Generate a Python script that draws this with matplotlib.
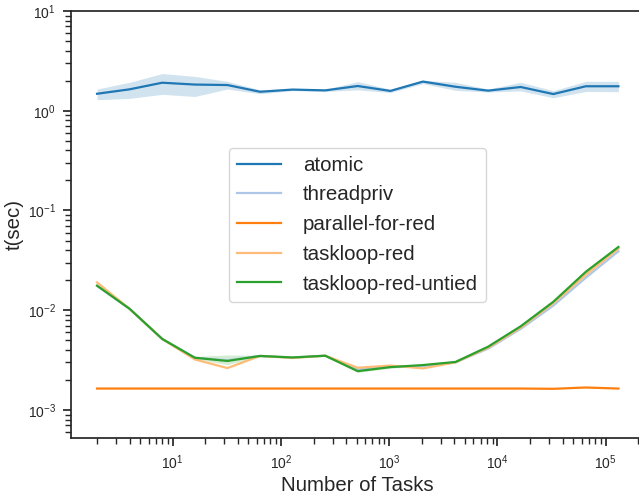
import matplotlib
matplotlib.use("Agg")
import matplotlib.pyplot as plt
import numpy as np

plt.rcParams['font.family'] = ['Liberation Sans', 'DejaVu Sans']
plt.rcParams['axes.edgecolor'] = '#262626'
plt.rcParams['xtick.color'] = '#262626'
plt.rcParams['ytick.color'] = '#262626'
plt.rcParams['text.color'] = '#262626'
plt.rcParams['axes.labelcolor'] = '#262626'

# number of tasks: 2^1 .. 2^17
tasks = [2 ** k for k in range(1, 18)]

atomic = [1.48, 1.64, 1.91, 1.83, 1.81, 1.55, 1.63, 1.60, 1.77, 1.58,
          1.96, 1.74, 1.59, 1.73, 1.47, 1.76, 1.76]
atomic_lo = [1.29, 1.33, 1.46, 1.39, 1.65, 1.48, 1.59, 1.56, 1.62, 1.52,
             1.87, 1.60, 1.54, 1.58, 1.35, 1.56, 1.55]
atomic_hi = [1.65, 1.93, 2.36, 2.21, 1.97, 1.62, 1.67, 1.64, 1.96, 1.64,
             2.02, 1.93, 1.65, 1.93, 1.59, 1.97, 1.97]

threadpriv = [0.0176, 0.0103, 0.00515, 0.00334, 0.00315, 0.00348, 0.00336,
              0.00350, 0.00255, 0.00270, 0.00275, 0.00300, 0.00412, 0.0065,
              0.0111, 0.0212, 0.0390]

parallel_for_red = [0.00164, 0.00164, 0.00164, 0.00164, 0.00164, 0.00164,
                    0.00164, 0.00164, 0.00164, 0.00164, 0.00164, 0.00164,
                    0.00164, 0.00164, 0.00163, 0.00168, 0.00164]

taskloop_red = [0.0190, 0.0103, 0.00515, 0.00321, 0.00263, 0.00348, 0.00332,
                0.00350, 0.00265, 0.00279, 0.00261, 0.00300, 0.00421, 0.0067,
                0.01176, 0.0227, 0.0415]

taskloop_red_untied = [0.0176, 0.01033, 0.00515, 0.00334, 0.00310, 0.00348,
                       0.00336, 0.00350, 0.00245, 0.00269, 0.00282, 0.00303,
                       0.00431, 0.0069, 0.01214, 0.0243, 0.0431]
untied_lo = [0.0172, 0.0101, 0.00505, 0.00325, 0.00285, 0.00342, 0.00330,
             0.00344, 0.00238, 0.00262, 0.00276, 0.00297, 0.00424, 0.0068,
             0.0119, 0.0236, 0.0423]
untied_hi = [0.0180, 0.0105, 0.00525, 0.00344, 0.00356, 0.00354, 0.00342,
             0.00356, 0.00252, 0.00276, 0.00288, 0.00309, 0.00438, 0.0070,
             0.0124, 0.0252, 0.0440]

names = ['atomic', 'threadpriv', 'parallel-for-red', 'taskloop-red',
         'taskloop-red-untied']
colors = ['#1f77b4', '#aec7e8', '#ff7f0e', '#ffbb78', '#2ca02c']

fig = plt.figure(figsize=(6.39, 4.98), dpi=100)
ax = fig.add_axes([71 / 639, (498 - 438.3) / 498, 573.5 / 639, (438.3 - 11) / 498])

ax.fill_between(tasks, atomic_lo, atomic_hi, color=colors[0], alpha=0.2, lw=0)
ax.fill_between(tasks, untied_lo, untied_hi, color=colors[4], alpha=0.2, lw=0)

series = [atomic, threadpriv, parallel_for_red, taskloop_red, taskloop_red_untied]
for name, vals, c in zip(names, series, colors):
    ax.plot(tasks, vals, color=c, lw=1.6, label=name)

ax.set_xscale('log')
ax.set_yscale('log')
ax.set_ylim(5.2e-4, 10)

ax.tick_params(which='major', direction='out', length=6, width=1.25,
               labelsize=10, pad=5)
ax.tick_params(which='minor', direction='out', length=4, width=1.0)
for s in ax.spines.values():
    s.set_linewidth(1.25)

ax.set_xlabel('Number of Tasks', fontsize=14.7, labelpad=3)
ax.set_ylabel('t(sec)', fontsize=14.7, labelpad=2.5)

ax.legend(loc='center', fontsize=14.8, handlelength=2.1, handletextpad=1.1,
          labelspacing=0.52)

fig.savefig('out.png', dpi=100)
